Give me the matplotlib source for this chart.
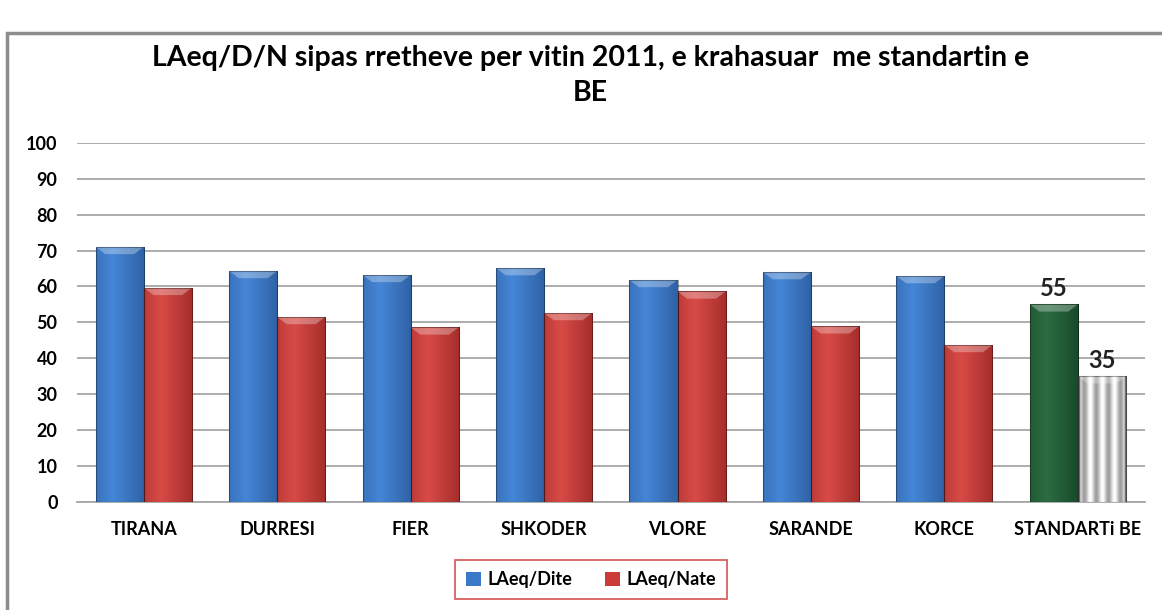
import numpy as np
import matplotlib
matplotlib.use("Agg")
import matplotlib.pyplot as plt
from matplotlib.patches import Rectangle, Polygon

plt.rcParams['font.family'] = ['Lato', 'DejaVu Sans']

cities = ["TIRANA", "DURRESI", "FIER", "SHKODER", "VLORE", "SARANDE", "KORCE", "STANDARTi BE"]
dite = [71.0, 64.3, 63.2, 65.1, 61.8, 64.0, 62.9]
nate = [59.6, 51.5, 48.6, 52.6, 58.6, 48.9, 43.7]
std_dite = 55
std_nate = 35

fig = plt.figure(figsize=(11.62, 6.10), dpi=100)
fig.patch.set_facecolor("white")
ax = fig.add_axes([0.0663, 0.177, 0.9187, 0.589])

x = np.arange(len(cities))
w = 0.36


def shade(ax, bars, cols3=None, stripes=False):
    # paint a horizontal gradient into each bar, clipped to the bar
    for b in bars:
        x0, y0 = b.get_x(), b.get_y()
        bw, bh = b.get_width(), b.get_height()
        t = np.linspace(0, 1, 64)
        if stripes:
            v = 0.62 + 0.38 * np.cos(t * 2 * np.pi * 2.0) ** 2
            v[:3] = 0.45
            v[-3:] = 0.45
            cols = np.array([[c, c, c] for c in v])
        else:
            c1 = np.array(matplotlib.colors.to_rgb(cols3[1]))
            c2 = np.array(matplotlib.colors.to_rgb(cols3[2]))
            prof = np.where(t < 0.35, 0.5 + 0.5 * t / 0.35, 1 - (t - 0.35) / 0.65)
            cols = np.array([c2 + (c1 - c2) * p for p in prof])
        img = np.tile(cols[None, :, :], (2, 1, 1))
        im = ax.imshow(img, extent=[x0, x0 + bw, y0, y0 + bh], aspect="auto",
                       zorder=b.get_zorder() + 0.1, interpolation="bilinear")
        im.set_clip_path(b)
        # bevel on top
        bev = min(2.0, bh * 0.1)
        ax.add_patch(Polygon([(x0, y0 + bh), (x0 + bw, y0 + bh),
                              (x0 + bw * 0.8, y0 + bh - bev), (x0 + bw * 0.2, y0 + bh - bev)],
                             closed=True, facecolor="white", alpha=0.3, edgecolor="none",
                             zorder=b.get_zorder() + 0.2))
        ax.add_patch(Rectangle((x0, y0), bw, bh, facecolor="none",
                               edgecolor=(0, 0, 0, 0.35), linewidth=0.8,
                               zorder=b.get_zorder() + 0.3))


b1 = ax.bar(x[:7] - w / 2, dite, w, color="#3b78c8", zorder=3, label="LAeq/Dite")
b2 = ax.bar(x[:7] + w / 2, nate, w, color="#cc3b38", zorder=3, label="LAeq/Nate")
b3 = ax.bar(x[7] - w / 2, std_dite, w, color="#1f5a31", zorder=3)
b4 = ax.bar(x[7] + w / 2, std_nate, w, color="#d8d8d8", zorder=3)

shade(ax, b1, ["#3b78c8", "#4586d6", "#2f62a6"])
shade(ax, b2, ["#cc3b38", "#d84a46", "#a52e2b"])
shade(ax, b3, ["#1f5a31", "#2c6c42", "#174a2a"])
shade(ax, b4, stripes=True)

ax.text(x[7] - w / 2, std_dite + 1.2, str(std_dite), ha="center", va="bottom",
        fontsize=17, fontweight="bold", color="#222222", zorder=6)
ax.text(x[7] + w / 2, std_nate + 1.2, str(std_nate), ha="center", va="bottom",
        fontsize=17, fontweight="bold", color="#222222", zorder=6)

ax.set_xlim(-0.5, len(cities) - 0.5)
ax.set_ylim(0, 100)
ax.set_yticks(np.arange(0, 101, 10))
ax.set_xticks(x)
ax.set_xticklabels(cities, fontsize=13, fontweight="bold")
ax.tick_params(axis="y", labelsize=13, length=0, pad=14)
ax.tick_params(axis="x", length=0, pad=14)
for lab in ax.get_yticklabels():
    lab.set_fontweight("bold")
ax.yaxis.grid(True, color="#a6a6a6", linewidth=1.3, zorder=0)
ax.set_axisbelow(True)
for s in ["top", "right", "left"]:
    ax.spines[s].set_visible(False)
ax.spines["bottom"].set_color("#a6a6a6")
ax.spines["bottom"].set_linewidth(1.3)

fig.text(0.508, 0.905, "LAeq/D/N sipas rretheve per vitin 2011, e krahasuar  me standartin e",
         ha="center", va="center", fontsize=20.5, fontweight="bold")
fig.text(0.508, 0.847, "BE", ha="center", va="center", fontsize=20.5, fontweight="bold")

leg = fig.legend(handles=[b1, b2], loc="center", bbox_to_anchor=(0.509, 0.05), ncol=2,
                 frameon=True, fancybox=False, handlelength=0.8,
                 handleheight=0.8, handletextpad=0.4, columnspacing=1.8,
                 borderpad=0.6, borderaxespad=0, prop={"weight": "bold", "size": 13})
leg.get_frame().set_edgecolor("#d03a3a")
leg.get_frame().set_linewidth(1.3)

# outer chart frame
fig.add_artist(Rectangle((7 / 1162, -0.05), 1.1, 1 - 33 / 610 + 0.05, transform=fig.transFigure,
                         facecolor="none", edgecolor="#8c8c8c", linewidth=2.5))

fig.savefig("out.png", dpi=100, facecolor="white")
